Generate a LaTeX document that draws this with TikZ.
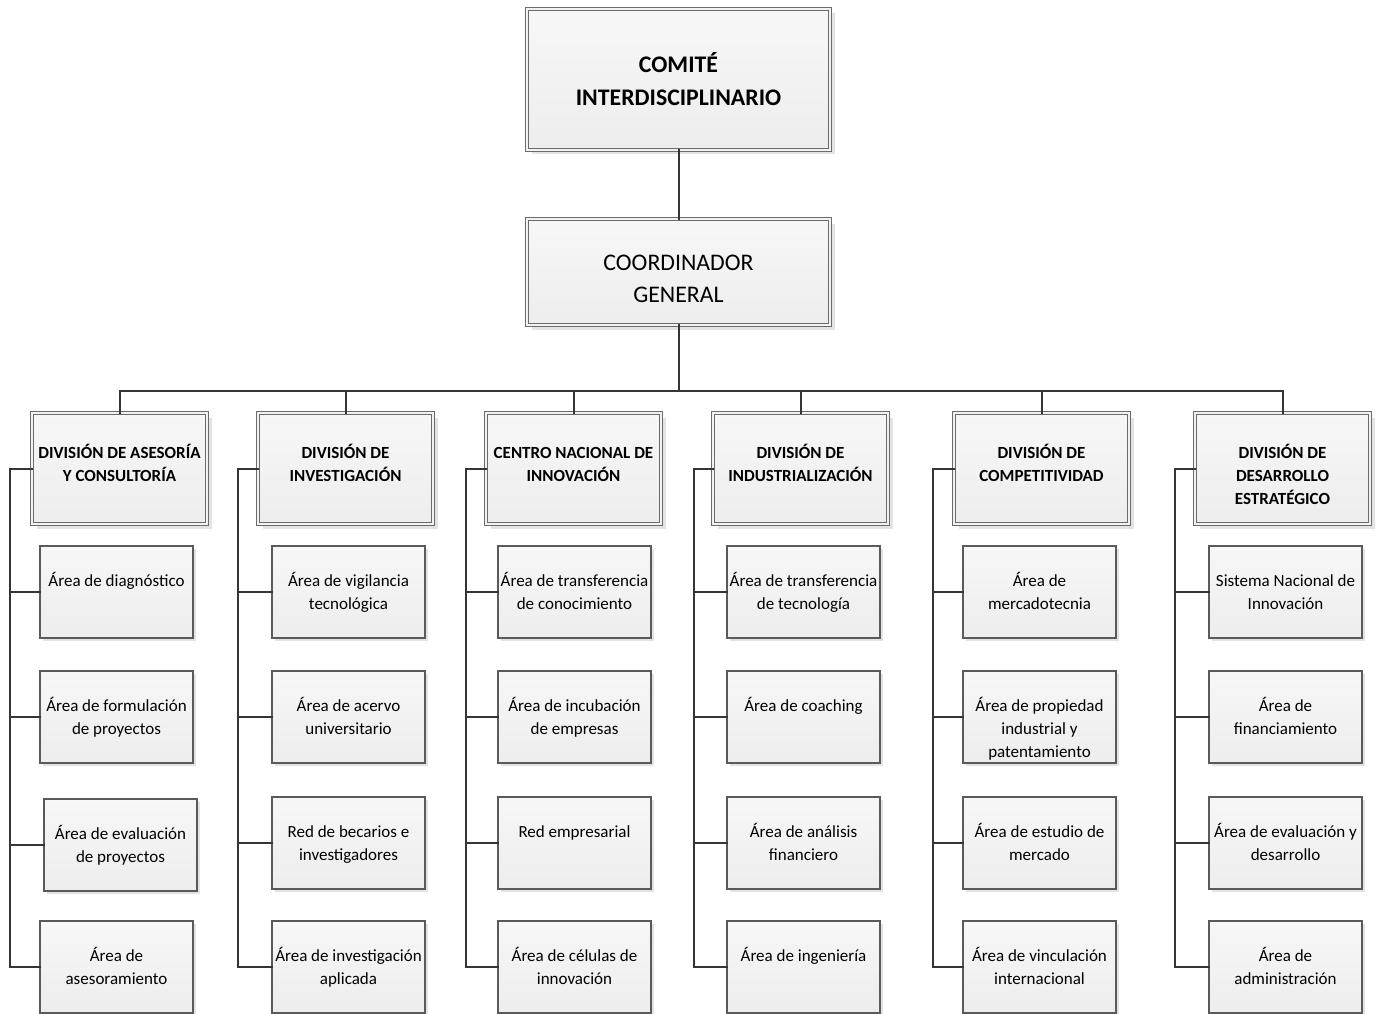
\documentclass[tikz,border=0pt]{standalone}
\usepackage{fontspec}
\setmainfont{Carlito}
\usetikzlibrary{shadows}
\definecolor{linec}{HTML}{353535}
\definecolor{boxc}{HTML}{5A5A5A}
\definecolor{filltop}{HTML}{F7F7F7}
\definecolor{fillbot}{HTML}{EDEDED}
\definecolor{gapc}{HTML}{F2F2F2}
\begin{document}
\begin{tikzpicture}[x=1pt,y=-1pt,
  conn/.style={draw=linec, line width=2pt, line cap=rect, line join=miter},
  areabox/.style={drop shadow={shadow xshift=2.5pt, shadow yshift=-2.5pt, fill=black!11, opacity=1},
    draw=boxc, line width=1.1pt, top color=filltop, bottom color=fillbot,
    minimum width=153pt, minimum height=92pt, anchor=north west, inner sep=0pt, outer sep=0pt},
  dblbox/.style={drop shadow={shadow xshift=4.5pt, shadow yshift=-4.5pt, fill=black!11, opacity=1},
    draw=boxc!90, line width=1pt, double=gapc, double distance=1.8pt,
    top color=filltop, bottom color=fillbot, anchor=north west, inner sep=0pt, outer sep=0pt},
  divbox/.style={dblbox, minimum width=175pt, minimum height=111pt},
  areatext/.style={font=\fontsize{17}{22.8}\selectfont, align=center, anchor=north, inner sep=0pt},
  divtext/.style={font=\bfseries\fontsize{17}{23}\selectfont, align=center, anchor=north, inner sep=0pt},
]
\useasboundingbox (0,0) rectangle (1379,1014);

% a box with its text block, the first line held at a fixed depth by a strut
\newcommand\areanode[4]{%
  \node[areabox] (#1) at (#2,#3) {};
  \node[areatext] (#1t) at ([yshift=-24.3pt]#1.north) {\strut #4};}
\newcommand\divnode[4]{%
  \node[divbox] (#1) at (#2,#3) {};
  \node[divtext] (#1t) at ([yshift=-28.7pt]#1.north) {\strut #4};}

% head of the chart
\node[dblbox, minimum width=303pt, minimum height=141pt] (top) at (527,9) {};
\node[font=\bfseries\fontsize{23.8}{33}\selectfont, align=center, anchor=north, inner sep=0pt]
  (topt) at ([yshift=-40.7pt]top.north) {\strut COMITÉ\\INTERDISCIPLINARIO};
\node[dblbox, minimum width=303pt, minimum height=106pt] (coord) at (527,219) {};
\node[font=\fontsize{23.8}{32}\selectfont, align=center, anchor=north, inner sep=0pt]
  (coordt) at ([yshift=-29.2pt]coord.north) {\strut COORDINADOR\\GENERAL};

% divisions
\divnode{d1}{32}{413}{DIVISIÓN DE ASESORÍA\\Y CONSULTORÍA}
\divnode{d2}{258}{413}{DIVISIÓN DE\\INVESTIGACIÓN}
\divnode{d3}{486}{413}{CENTRO NACIONAL DE\\INNOVACIÓN}
\divnode{d4}{713}{413}{DIVISIÓN DE\\INDUSTRIALIZACIÓN}
\divnode{d5}{954}{413}{DIVISIÓN DE\\COMPETITIVIDAD}
\divnode{d6}{1195}{413}{DIVISIÓN DE\\DESARROLLO\\ESTRATÉGICO}

% areas, column 1
\areanode{a11}{40}{546}{Área de diagnóstico}
\areanode{a12}{40}{671}{Área de formulación\\de proyectos}
\areanode{a13}{44}{799}{Área de evaluación\\de proyectos}
\areanode{a14}{40}{921}{Área de\\asesoramiento}
% column 2
\areanode{a21}{272}{546}{Área de vigilancia\\tecnológica}
\areanode{a22}{272}{671}{Área de acervo\\universitario}
\areanode{a23}{272}{797}{Red de becarios e\\investigadores}
\areanode{a24}{272}{921}{Área de investigación\\aplicada}
% column 3
\areanode{a31}{498}{546}{Área de transferencia\\de conocimiento}
\areanode{a32}{498}{671}{Área de incubación\\de empresas}
\areanode{a33}{498}{797}{Red empresarial}
\areanode{a34}{498}{921}{Área de células de\\innovación}
% column 4
\areanode{a41}{727}{546}{Área de transferencia\\de tecnología}
\areanode{a42}{727}{671}{Área de coaching}
\areanode{a43}{727}{797}{Área de análisis\\financiero}
\areanode{a44}{727}{921}{Área de ingeniería}
% column 5
\areanode{a51}{963}{546}{Área de\\mercadotecnia}
\areanode{a52}{963}{671}{Área de propiedad\\industrial y\\patentamiento}
\areanode{a53}{963}{797}{Área de estudio de\\mercado}
\areanode{a54}{963}{921}{Área de vinculación\\internacional}
% column 6
\areanode{a61}{1209}{546}{Sistema Nacional de\\Innovación}
\areanode{a62}{1209}{671}{Área de\\financiamiento}
\areanode{a63}{1209}{797}{Área de evaluación y\\desarrollo}
\areanode{a64}{1209}{921}{Área de\\administración}

% vertical links and the bus
\path (coord.south) ++(0,66) coordinate (bus);
\draw[conn] (top.south) -- (coord.north);
\draw[conn] (coord.south) -- (bus);
\foreach \d in {d1,d2,d3,d4,d5,d6} \draw[conn] (\d.north) |- (bus);

% spines of each division
\coordinate (s1) at (10,0);
\coordinate (s2) at (238,0);
\coordinate (s3) at (466,0);
\coordinate (s4) at (694,0);
\coordinate (s5) at (933,0);
\coordinate (s6) at (1175,0);
\foreach \c in {1,...,6}{
  \draw[conn] (d\c.west) -| (s\c |- a\c4.west) -- (a\c4.west);
  \foreach \r in {1,2,3} \draw[conn] (s\c |- a\c\r.west) -- (a\c\r.west);
}
\end{tikzpicture}
\end{document}
